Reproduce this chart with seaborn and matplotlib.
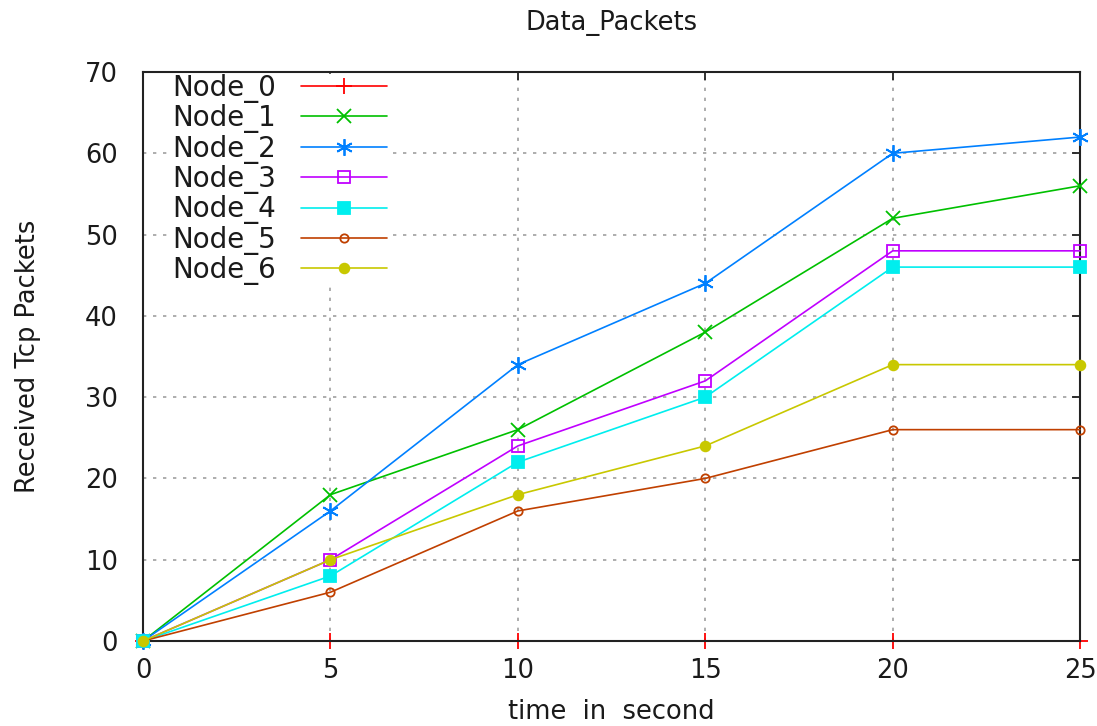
import matplotlib
matplotlib.use("Agg")
import matplotlib.pyplot as plt
import seaborn as sns
import pandas as pd

times = [0, 5, 10, 15, 20, 25]
node_names = ["Node_0", "Node_1", "Node_2", "Node_3", "Node_4", "Node_5", "Node_6"]
node_0 = [0, 0, 0, 0, 0, 0]
node_1 = [0, 18, 26, 38, 52, 56]
node_2 = [0, 16, 34, 44, 60, 62]
node_3 = [0, 10, 24, 32, 48, 48]
node_4 = [0, 8, 22, 30, 46, 46]
node_5 = [0, 6, 16, 20, 26, 26]
node_6 = [0, 10, 18, 24, 34, 34]
series = [node_0, node_1, node_2, node_3, node_4, node_5, node_6]

colors = ["#ff0000", "#00c000", "#0080ff", "#c000ff", "#00eeee", "#c04000", "#c8c800"]
markers = ["+", "x", (6, 2, 0), "s", "s", "o", "o"]
fills = ["full", "full", "full", "none", "full", "none", "full"]
msizes = [12, 10, 12, 9, 9, 6, 7]
zorders = [2, 3, 4, 5, 6, 7, 8]

rows = []
for name, vals in zip(node_names, series):
    for t, v in zip(times, vals):
        rows.append({"time": t, "packets": v, "node": name})
df = pd.DataFrame(rows)

sns.set_style("white")
plt.rcParams["font.family"] = ["DejaVu Sans"]
txt = "#1a1a1a"

fig = plt.figure(figsize=(10.97, 7.26), dpi=100)
ax = fig.add_axes([0.1304, 0.1171, 0.8542, 0.7837])

for i, name in enumerate(node_names):
    sub = df[df["node"] == name]
    fc = colors[i] if fills[i] == "full" else "none"
    sns.lineplot(data=sub, x="time", y="packets", ax=ax, color=colors[i],
                 marker=markers[i], markersize=msizes[i], markerfacecolor=fc,
                 markeredgecolor=colors[i], markeredgewidth=1.3, linewidth=1.2,
                 label=name, zorder=zorders[i], clip_on=False)

ax.set_xlim(0, 25)
ax.set_ylim(0, 70)
ax.set_xticks([0, 5, 10, 15, 20, 25])
ax.set_yticks(range(0, 71, 10))
ax.grid(True, color="#a0a0a0", linestyle=(0, (2, 4)), linewidth=1.2)
for s in ax.spines.values():
    s.set_color("#222222")
    s.set_linewidth(1.5)
    s.set_zorder(2.5)
ax.tick_params(direction="in", length=6, width=1.3, top=True, right=True,
               labelsize=18.5, colors="#222222", labelcolor=txt)
ax.tick_params(axis="y", pad=18)
ax.tick_params(axis="x", pad=12)
ax.set_xlabel("time  in  second", fontsize=18.5, labelpad=11, color=txt)
ax.set_ylabel("Received Tcp Packets", fontsize=18.5, labelpad=32, color=txt)
ax.set_title("Data_Packets", fontsize=18.5, pad=30, color=txt)

leg = ax.legend(loc="upper left", markerfirst=False, fontsize=20, frameon=True,
                framealpha=1, edgecolor="white", facecolor="white",
                handlelength=3.1, handletextpad=0.9, labelspacing=0.05,
                borderpad=0.0, borderaxespad=0.0, bbox_to_anchor=(0.031, 0.997))
for t in leg.get_texts():
    t.set_color(txt)
leg.set_zorder(20)

fig.savefig("out.png", dpi=100)
